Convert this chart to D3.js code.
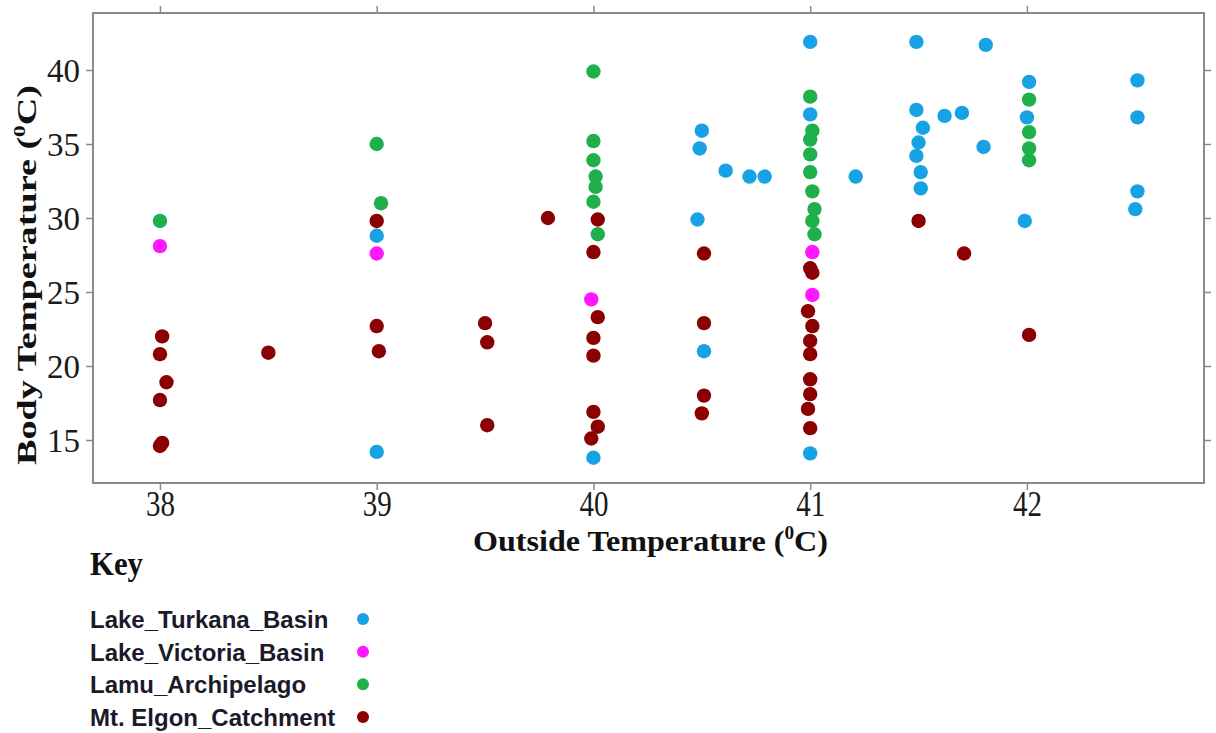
<!DOCTYPE html>
<html>
<head>
<meta charset="utf-8">
<script src="https://cdn.jsdelivr.net/npm/d3@7"></script>
<style>
  html, body { margin: 0; padding: 0; background: #fff; }
  svg { display: block; }
</style>
</head>
<body>
<svg id="chart" width="1216" height="733"></svg>
<script>
// ---- data ----
const seriesNames = ["Lake_Turkana_Basin", "Lake_Victoria_Basin", "Lamu_Archipelago", "Mt. Elgon_Catchment"];
const seriesColors = ["#17a2e6", "#ff17ff", "#1fb04b", "#8b0000"];

const turkana = [
  [39, 28.8], [39, 14.2], [40, 13.8],
  [40.5, 35.9], [40.49, 34.7], [40.61, 33.2], [40.72, 32.8], [40.79, 32.8], [40.48, 29.9], [40.51, 21.0],
  [41, 41.9], [41, 37.0], [41, 14.1], [41.21, 32.8],
  [41.49, 41.9], [41.81, 41.7], [41.49, 37.3], [41.62, 36.9], [41.7, 37.1],
  [41.52, 36.1], [41.5, 35.1], [41.49, 34.2], [41.51, 33.1], [41.51, 32.0], [41.8, 34.8],
  [42.01, 39.2], [42, 36.8], [41.99, 29.8],
  [42.51, 39.3], [42.51, 36.8], [42.51, 31.8], [42.5, 30.6]
];
const victoria = [
  [38, 28.1], [39, 27.6], [39.99, 24.5], [41.01, 27.7], [41.01, 24.8]
];
const lamu = [
  [38, 29.8], [39, 35.0], [39.02, 31.0],
  [40, 39.9], [40, 35.2], [40, 33.9], [40.01, 32.8], [40.01, 32.1], [40, 31.1], [40.02, 28.9],
  [41, 38.2], [41.01, 35.9], [41, 35.3], [41, 34.3], [41, 33.1], [41.01, 31.8], [41.02, 30.6], [41.01, 29.8], [41.02, 28.9],
  [42.01, 38.0], [42.01, 35.8], [42.01, 34.7], [42.01, 33.9]
];
const elgon = [
  [38.01, 22.0], [38, 20.8], [38.03, 18.9], [38, 17.7], [38, 14.6], [38.01, 14.8],
  [38.5, 20.9],
  [39, 29.8], [39, 22.7], [39.01, 21.0],
  [39.5, 22.9], [39.51, 21.6], [39.51, 16.0],
  [39.79, 30.0],
  [40.02, 29.9], [40.0, 27.7], [40.02, 23.3], [40, 21.9], [40, 20.7], [40, 16.9], [40.02, 15.9], [39.99, 15.1],
  [40.51, 27.6], [40.51, 22.9], [40.51, 18.0], [40.5, 16.8],
  [41, 26.6], [41.01, 26.3], [40.99, 23.7], [41.01, 22.7], [41, 21.7], [41, 20.8], [41, 19.1], [41, 18.1], [40.99, 17.1], [41, 15.8],
  [41.5, 29.8], [41.71, 27.6], [42.01, 22.1]
];
const seriesData = [turkana, victoria, lamu, elgon];

const xTicks = [38, 39, 40, 41, 42];
const yTicks = [15, 20, 25, 30, 35, 40];
const xDomain = [37.691, 42.817];
const yDomain = [12.095, 43.851];

// ---- layout ----
const svg = d3.select("#chart");
const plot = { left: 93, right: 1204, top: 13, bottom: 483 };
const frameColor = "#8a8a8a";
const serif = "'Liberation Serif', 'Times New Roman', Times, serif";
const sans = "'Liberation Sans', Arial, Helvetica, sans-serif";

const x = d3.scaleLinear().domain(xDomain).range([plot.left, plot.right]);
const y = d3.scaleLinear().domain(yDomain).range([plot.bottom, plot.top]);

// frame
svg.append("rect")
  .attr("x", plot.left).attr("y", plot.top)
  .attr("width", plot.right - plot.left).attr("height", plot.bottom - plot.top)
  .attr("fill", "none").attr("stroke", frameColor).attr("stroke-width", 2);

function styleAxis(g) {
  g.select(".domain").remove();
  g.selectAll(".tick line").attr("stroke", frameColor).attr("stroke-width", 1.5);
}

// bottom axis
const gx = svg.append("g").attr("transform", `translate(0,${plot.bottom})`)
  .call(d3.axisBottom(x).tickValues(xTicks).tickSize(7).tickFormat(d3.format("d")));
styleAxis(gx);
gx.selectAll(".tick text")
  .attr("y", 33).attr("dy", 0)
  .attr("font-family", serif).attr("font-size", 35).attr("fill", "#1a1a1a")
  .attr("textLength", 29).attr("lengthAdjust", "spacingAndGlyphs");

// top axis (ticks only)
const gxt = svg.append("g").attr("transform", `translate(0,${plot.top})`)
  .call(d3.axisTop(x).tickValues(xTicks).tickSize(7).tickFormat(""));
styleAxis(gxt);

// left axis
const gy = svg.append("g").attr("transform", `translate(${plot.left},0)`)
  .call(d3.axisLeft(y).tickValues(yTicks).tickSize(7).tickFormat(d3.format("d")));
styleAxis(gy);
gy.selectAll(".tick text")
  .attr("x", -13).attr("dy", "0.34em")
  .attr("font-family", serif).attr("font-size", 33).attr("fill", "#1a1a1a");

// right axis (ticks only)
const gyr = svg.append("g").attr("transform", `translate(${plot.right},0)`)
  .call(d3.axisRight(y).tickValues(yTicks).tickSize(7).tickFormat(""));
styleAxis(gyr);

// points
seriesData.forEach((data, i) => {
  svg.append("g").selectAll("circle")
    .data(data).join("circle")
    .attr("cx", d => x(d[0]))
    .attr("cy", d => y(d[1]))
    .attr("r", 7.2)
    .attr("fill", seriesColors[i]);
});

// x axis title
const xt = svg.append("text")
  .attr("x", 473).attr("y", 551)
  .attr("font-family", serif).attr("font-size", 30).attr("font-weight", "bold")
  .attr("fill", "#111")
  .attr("textLength", 355).attr("lengthAdjust", "spacingAndGlyphs");
xt.append("tspan").text("Outside Temperature  (");
xt.append("tspan").attr("font-size", 18).attr("dy", -12).text("0");
xt.append("tspan").attr("dy", 12).text("C)");

// y axis title
const yt = svg.append("text")
  .attr("transform", "translate(36,465) rotate(-90)")
  .attr("x", 0).attr("y", 0)
  .attr("font-family", serif).attr("font-size", 28).attr("font-weight", "bold")
  .attr("fill", "#111")
  .attr("textLength", 380).attr("lengthAdjust", "spacingAndGlyphs");
yt.append("tspan").text("Body Temperature (");
yt.append("tspan").attr("font-size", 17).attr("dy", -11).text("0");
yt.append("tspan").attr("dy", 11).text("C)");

// legend
svg.append("text")
  .attr("x", 90).attr("y", 575)
  .attr("font-family", serif).attr("font-size", 33).attr("font-weight", "bold")
  .attr("fill", "#111")
  .attr("textLength", 53).attr("lengthAdjust", "spacingAndGlyphs")
  .text("Key");

const legendY = d3.scalePoint().domain(seriesNames).range([628, 726]);
const leg = svg.append("g").selectAll("g").data(seriesNames).join("g");
leg.append("text")
  .attr("x", 90).attr("y", d => legendY(d))
  .attr("font-family", sans).attr("font-size", 24).attr("font-weight", "bold")
  .attr("fill", "#1a1a2a")
  .text(d => d);
leg.append("circle")
  .attr("cx", 363).attr("cy", d => legendY(d) - 9)
  .attr("r", 6)
  .attr("fill", (d, i) => seriesColors[i]);
</script>
</body>
</html>
